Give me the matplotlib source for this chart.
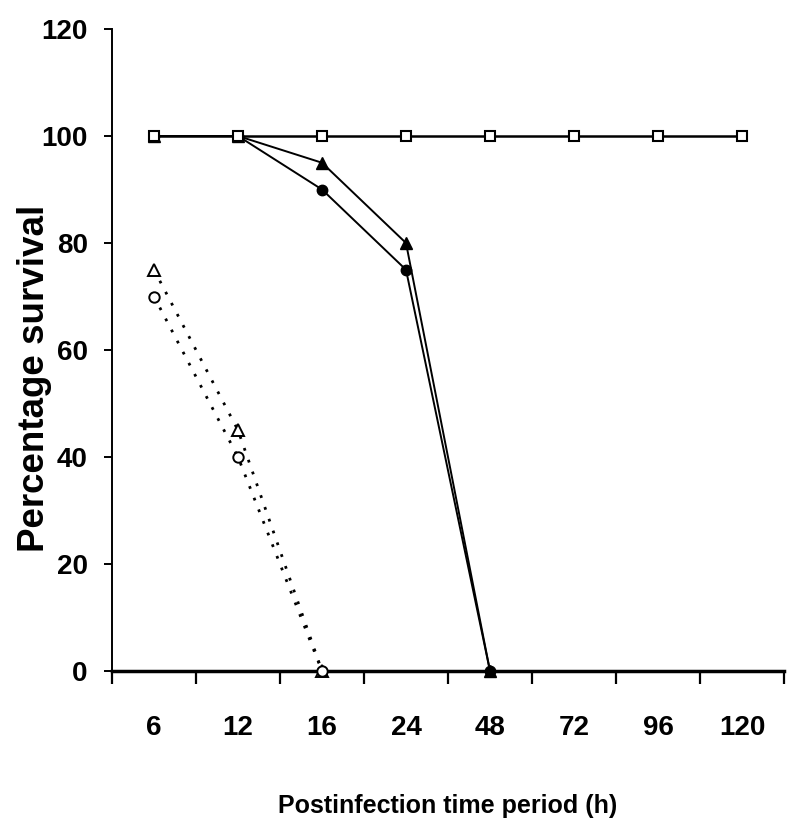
import matplotlib
matplotlib.use("Agg")
import matplotlib.pyplot as plt
from matplotlib import font_manager
import numpy as np

hours = ["6", "12", "16", "24", "48", "72", "96", "120"]
control = [100, 100, 100, 100, 100, 100, 100, 100]
filled_tri = [100, 100, 95, 80, 0]
filled_circ = [100, 100, 90, 75, 0]
open_tri = [75, 45, 0]
open_circ = [70, 40, 0]

# pick a condensed face if available
narrow = 'Liberation Sans'
narrow_ok = False
try:
    p = font_manager.findfont(font_manager.FontProperties(family='Liberation Sans Narrow', weight='bold'),
                              fallback_to_default=False)
    narrow = 'Liberation Sans Narrow'
    narrow_ok = True
except Exception:
    pass

plt.rcParams['font.family'] = ['Liberation Sans', 'DejaVu Sans']
plt.rcParams['font.weight'] = 'bold'

tick_size = 24 if narrow_ok else 20
xlab_size = 22 if narrow_ok else 18

fig = plt.figure(figsize=(8.0, 8.34), dpi=100)
ax = fig.add_axes([0.14, 1 - 671 / 834, 0.84, (671 - 29) / 834])

def xs(v):
    return np.arange(len(v))

dot = (0, (1, 3.5))
ax.plot(xs(open_tri), open_tri, linestyle=dot, color='black', lw=2.0,
        marker='^', ms=8, mfc='white', mec='black', mew=1.4, clip_on=False, zorder=3)
ax.plot(xs(open_circ), open_circ, linestyle=dot, color='black', lw=2.0,
        marker='o', ms=7.5, mfc='white', mec='black', mew=1.4, clip_on=False, zorder=3)
ax.plot(xs(filled_circ), filled_circ, '-', color='black', lw=1.4,
        marker='o', ms=7.5, mfc='black', mec='black', clip_on=False, zorder=3)
ax.plot(xs(filled_tri), filled_tri, '-', color='black', lw=1.4,
        marker='^', ms=8.5, mfc='black', mec='black', clip_on=False, zorder=3)
ax.plot(xs(control), control, '-', color='black', lw=1.8,
        marker='s', ms=7.5, mfc='white', mec='black', mew=1.5, clip_on=False, zorder=4)

ax.set_xlim(-0.5, len(hours) - 0.5)
ax.set_ylim(0, 120)
ax.set_yticks(np.arange(0, 121, 20))

ax.set_xticks(np.arange(len(hours)))
ax.set_xticklabels(hours)
ax.set_xticks(np.arange(len(hours) + 1) - 0.5, minor=True)
ax.tick_params(axis='x', which='major', length=0, pad=32)
ax.tick_params(axis='x', which='minor', length=9, width=1.6, direction='out')
ax.tick_params(axis='y', which='major', length=6, width=1.4, direction='out', pad=11.5)

for lab in ax.get_xticklabels() + ax.get_yticklabels():
    lab.set_fontfamily([narrow, 'Liberation Sans', 'DejaVu Sans'])
    lab.set_fontweight('bold')
    lab.set_fontsize(tick_size)

ax.spines['top'].set_visible(False)
ax.spines['right'].set_visible(False)
ax.spines['bottom'].set_linewidth(2.5)
ax.spines['left'].set_linewidth(1.4)

fig.text(447.5 / 800, 1 - 813 / 834, "Postinfection time period (h)", ha='center', va='baseline',
         fontsize=xlab_size, fontweight='bold', family=[narrow, 'Liberation Sans', 'DejaVu Sans'])
fig.text(35 / 800, 1 - 378 / 834, "Percentage survival", ha='center', va='center', rotation=90,
         fontsize=26.5, fontweight='bold', family=['Liberation Sans', 'DejaVu Sans'])

fig.savefig("out.png", dpi=100, facecolor='white')
